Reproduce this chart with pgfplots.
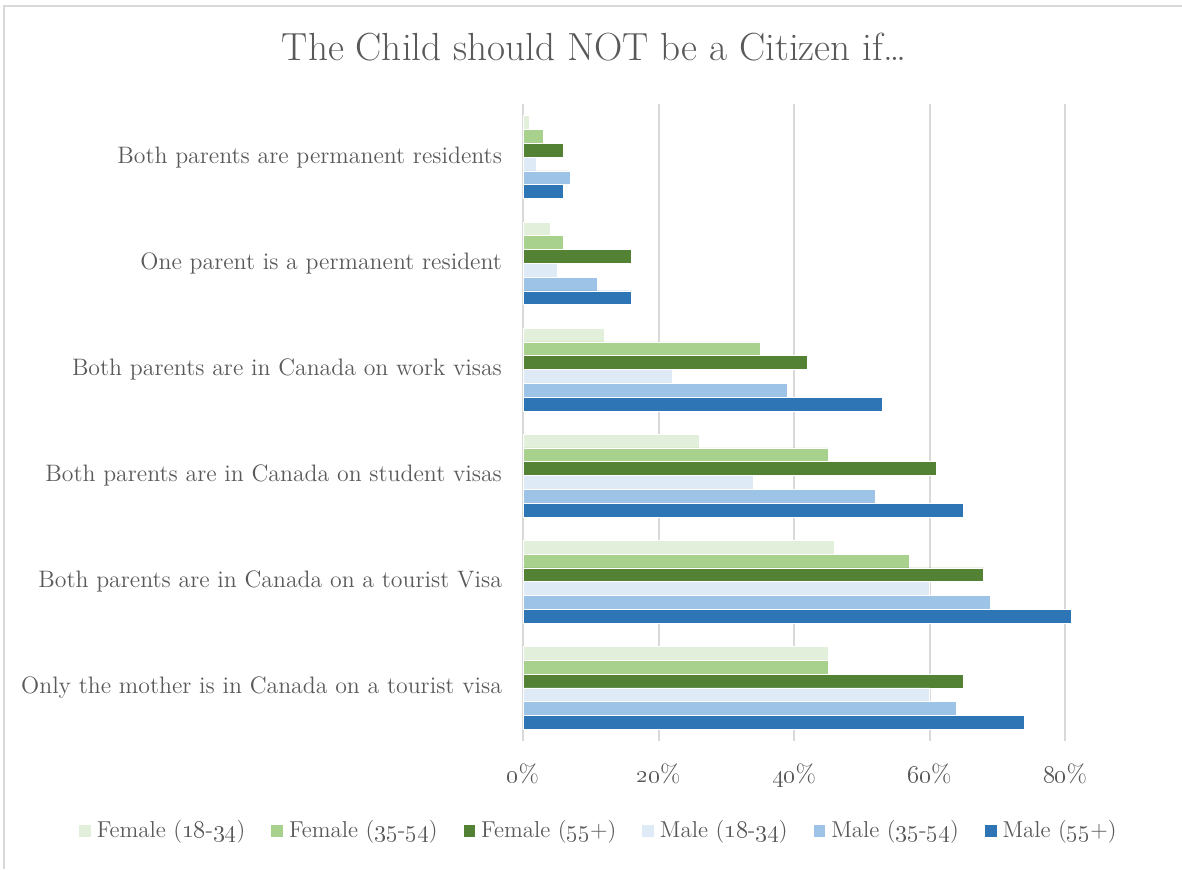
\documentclass[border=0pt]{standalone}
\usepackage{pgfplots}
\pgfplotsset{compat=1.18}
\definecolor{txt}{HTML}{595959}
\definecolor{grd}{HTML}{D9D9D9}
\definecolor{fa}{HTML}{E2EFDA}
\definecolor{fb}{HTML}{A9D18E}
\definecolor{fc}{HTML}{548235}
\definecolor{ma}{HTML}{DEEBF7}
\definecolor{mb}{HTML}{9DC3E6}
\definecolor{mc}{HTML}{2E75B6}
\begin{document}
\begin{tikzpicture}
\path[use as bounding box] (0,0) rectangle (591pt,434.5pt);
\draw[grd, line width=0.75pt] (2pt,0) -- (2pt,431.5pt) -- (591pt,431.5pt);
\node[text=txt, font=\fontsize{19.6}{23}\selectfont] at (297pt,411pt) {The Child should NOT be a Citizen if\dots};
\begin{axis}[
  at={(261.5pt,64pt)}, anchor=south west,
  scale only axis, width=271pt, height=318.5pt,
  xbar, bar width=0.13,
  xmin=0, xmax=80, ymin=-0.5, ymax=5.5,
  y dir=reverse, clip=false,
  axis line style={draw=none},
  x axis line style={draw=none},
  major tick length=0pt,
  xmajorgrids, major grid style={grd, line width=1pt},
  xtick={0,20,40,60,80},
  xticklabels={\oldstylenums{0}\%,\oldstylenums{20}\%,\oldstylenums{40}\%,\oldstylenums{60}\%,\oldstylenums{80}\%},
  xticklabel style={text=txt, font=\fontsize{12.5}{14}\selectfont, yshift=-8pt},
  ytick={0,1,2,3,4,5},
  yticklabels={Both parents are permanent residents, One parent is a permanent resident, Both parents are in Canada on work visas, Both parents are in Canada on student visas, Both parents are in Canada on a tourist Visa, Only the mother is in Canada on a tourist visa},
  yticklabel style={text=txt, font=\fontsize{11.9}{14}\selectfont, xshift=-7pt},
  legend columns=6,
  legend style={at={(axis description cs:0.142,-0.141)}, anchor=center, draw=none, fill=none,
    font=\fontsize{11.5}{13}\selectfont, text=txt,
    /tikz/every even column/.append style={column sep=11pt},
    /tikz/every odd column/.append style={column sep=1pt},
    legend cell align=left},
  legend image code/.code={\fill[#1, draw=none] (0pt,-2.9pt) rectangle (5.8pt,2.9pt);},
  every axis plot/.append style={draw=white, line width=0.3pt},
]
\addplot[fill=fa, bar shift=-0.325] coordinates {(1,0) (4,1) (12,2) (26,3) (46,4) (45,5)};
\addplot[fill=fb, bar shift=-0.195] coordinates {(3,0) (6,1) (35,2) (45,3) (57,4) (45,5)};
\addplot[fill=fc, bar shift=-0.065] coordinates {(6,0) (16,1) (42,2) (61,3) (68,4) (65,5)};
\addplot[fill=ma, bar shift=0.065] coordinates {(2,0) (5,1) (22,2) (34,3) (60,4) (60,5)};
\addplot[fill=mb, bar shift=0.195] coordinates {(7,0) (11,1) (39,2) (52,3) (69,4) (64,5)};
\addplot[fill=mc, bar shift=0.325] coordinates {(6,0) (16,1) (53,2) (65,3) (81,4) (74,5)};
\legend{Female (\oldstylenums{18}-\oldstylenums{34}), Female (\oldstylenums{35}-\oldstylenums{54}), Female (\oldstylenums{55}+), Male (\oldstylenums{18}-\oldstylenums{34}), Male (\oldstylenums{35}-\oldstylenums{54}), Male (\oldstylenums{55}+)}
\end{axis}
\end{tikzpicture}
\end{document}
